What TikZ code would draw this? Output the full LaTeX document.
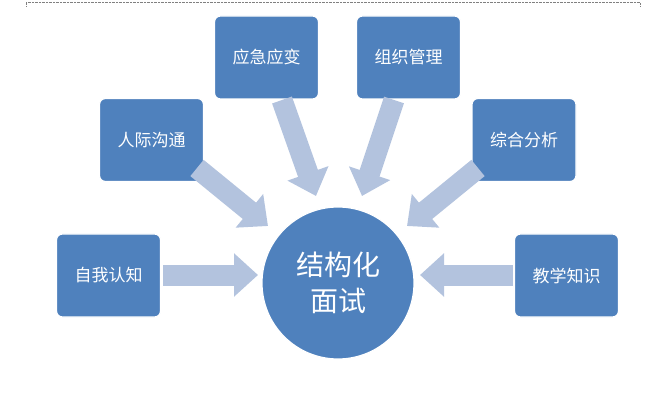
\documentclass[tikz,border=0pt]{standalone}
\usepackage{fontspec}
\setmainfont{Noto Sans CJK SC}
\usetikzlibrary{arrows.meta}
\definecolor{bx}{HTML}{4F81BD}
\definecolor{ar}{HTML}{B3C3DE}
\begin{document}
\begin{tikzpicture}[x=1pt,y=-1pt,
  box/.style={draw=white,line width=1.2pt,fill=bx,rounded corners=6pt,minimum width=104pt,minimum height=83pt,text=white,font=\fontsize{17}{20}\selectfont,inner sep=0pt},
  blk/.style={draw=ar,line width=21pt,-{Triangle[length=24pt,width=42pt]}}]
\useasboundingbox (0,0) rectangle (662,401);
\draw[densely dotted,gray] (26,6)--(26,2)--(640,2)--(640,6);
\node[box] (a) at (108.5,275.5) {自我认知};
\node[box] (b) at (151.5,140) {人际沟通};
\node[box] (c) at (266.5,57.5) {应急应变};
\node[box] (d) at (408.5,57.5) {组织管理};
\node[box] (e) at (524,140) {综合分析};
\node[box] (f) at (566.5,275.5) {教学知识};
\node[circle,fill=bx,draw=white,line width=1.2pt,minimum size=152pt,text=white,align=center,font=\fontsize{28}{36}\selectfont,inner sep=0pt] (m) at (338,283) {结构化\\面试};
\coordinate (a1) at (163,275); \coordinate (a2) at (258,275);
\coordinate (b1) at (197,168); \coordinate (b2) at (268,226);
\coordinate (c1) at (282,100); \coordinate (c2) at (316,196);
\coordinate (d1) at (394,100); \coordinate (d2) at (362,196);
\coordinate (e1) at (478,168); \coordinate (e2) at (407,226);
\coordinate (f1) at (513,275); \coordinate (f2) at (420,275);
\foreach \p in {a,b,c,d,e,f} \draw[blk] (\p1)--(\p2);
\end{tikzpicture}
\end{document}
